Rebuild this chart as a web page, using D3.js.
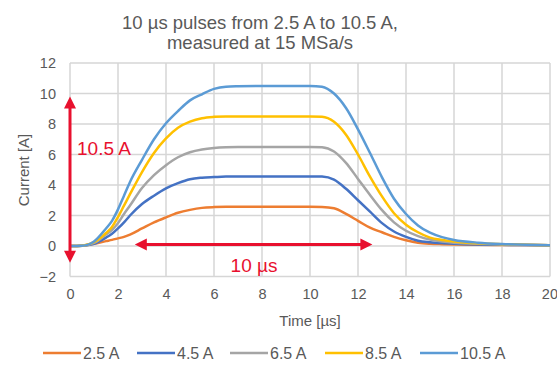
<!DOCTYPE html>
<html><head><meta charset="utf-8">
<script src="https://cdn.jsdelivr.net/npm/d3@7"></script>
<style>
html,body{margin:0;padding:0;background:#fff;}
svg{display:block;font-family:"Liberation Sans",Arial,sans-serif;}
</style></head>
<body><svg id="c" width="557" height="369"></svg>
<script>
const titleLines = ["10 µs pulses from 2.5 A to 10.5 A,", "measured at 15 MSa/s"];
const xTicks = [0,2,4,6,8,10,12,14,16,18,20];
const yTicks = [-2,0,2,4,6,8,10,12];
const xLabel = "Time [µs]";
const yLabel = "Current [A]";
const seriesNames = ["2.5 A","4.5 A","6.5 A","8.5 A","10.5 A"];
const seriesColors = ["#ED7D31","#4472C4","#A5A5A5","#FFC000","#5B9BD5"];
const time = [0,0.5,1,1.5,1.75,2,2.25,2.5,3,3.5,4,4.5,5,5.5,6,6.5,7,8,9,10,10.5,11,11.5,12,12.5,13,13.5,14,14.5,15,15.5,16,17,18,19,20];
const s25  = [0,0.02,0.15,0.32,0.4,0.5,0.6,0.75,1.15,1.55,1.88,2.18,2.37,2.5,2.55,2.57,2.57,2.57,2.57,2.57,2.56,2.48,2.1,1.65,1.2,0.9,0.6,0.38,0.22,0.15,0.12,0.1,0.08,0.07,0.06,0.05];
const s45  = [0,0.02,0.15,0.55,0.8,1.15,1.55,2.0,2.75,3.3,3.78,4.12,4.38,4.48,4.52,4.55,4.55,4.55,4.55,4.56,4.55,4.35,3.75,3.0,2.25,1.5,0.95,0.6,0.35,0.25,0.19,0.15,0.1,0.08,0.06,0.05];
const s65  = [0,0.02,0.2,0.75,1.05,1.5,2.1,2.65,3.8,4.65,5.3,5.82,6.15,6.33,6.43,6.48,6.5,6.5,6.5,6.5,6.48,6.2,5.45,4.4,3.35,2.35,1.55,1.0,0.65,0.42,0.3,0.22,0.14,0.1,0.07,0.05];
const s85  = [0,0.02,0.25,0.85,1.25,1.9,2.65,3.4,4.85,6.1,7.05,7.75,8.15,8.38,8.47,8.5,8.5,8.5,8.5,8.5,8.48,8.15,7.3,6.0,4.55,3.25,2.15,1.4,0.9,0.55,0.4,0.3,0.18,0.12,0.08,0.05];
const s105 = [0,0.02,0.3,1.15,1.65,2.4,3.3,4.2,5.65,7.0,8.05,8.85,9.55,9.95,10.3,10.45,10.48,10.5,10.5,10.5,10.45,10.0,9.05,7.65,6.1,4.5,3.1,2.1,1.35,0.87,0.58,0.4,0.22,0.13,0.08,0.05];
const seriesValues = [s25,s45,s65,s85,s105];
const annoAmp = {x:0, y0:9.8, y1:-1.1, label:"10.5 A"};
const annoDur = {x0:2.7, x1:12.6, y:0.1, label:"10 µs"};
const red = "#E8102E";

const svg = d3.select("#c");
const x = d3.scaleLinear().domain([0,20]).range([70,550]);
const y = d3.scaleLinear().domain([-2,12]).range([276.5,63]);
const txt = "#595959";

// gridlines
const g = svg.append("g");
g.selectAll("line.h").data(yTicks).join("line")
  .attr("x1",x(0)).attr("x2",x(20)).attr("y1",d=>y(d)).attr("y2",d=>y(d))
  .attr("stroke","#d6d6d6").attr("stroke-width",1.5);
g.selectAll("line.v").data(xTicks).join("line")
  .attr("y1",y(-2)).attr("y2",y(12)).attr("x1",d=>x(d)).attr("x2",d=>x(d))
  .attr("stroke","#d6d6d6").attr("stroke-width",1.5);

// tick labels via axes
const ax = svg.append("g").attr("transform",`translate(0,${y(-2)})`)
  .call(d3.axisBottom(x).tickValues(xTicks).tickSize(0).tickPadding(12));
const ay = svg.append("g").attr("transform",`translate(${x(0)},0)`)
  .call(d3.axisLeft(y).tickValues(yTicks).tickSize(0).tickPadding(14));
[ax,ay].forEach(a=>{
  a.select(".domain").remove();
  a.selectAll("text").attr("fill",txt).style("font-size","14.5px").style("font-family","Liberation Sans, Arial, sans-serif");
});
ax.selectAll(".tick").filter(d=>d===20).select("text").attr("text-anchor","end").attr("x",7.5);

// lines
const line = d3.line().x((d,i)=>x(time[i])).y(d=>y(d)).curve(d3.curveMonotoneX);
svg.append("g").selectAll("path").data(seriesValues).join("path")
  .attr("d",line).attr("fill","none")
  .attr("stroke",(d,i)=>seriesColors[i]).attr("stroke-width",2.5)
  .attr("stroke-linejoin","round");

// title
svg.append("text").attr("x",260).attr("text-anchor","middle").attr("fill",txt)
  .style("font-size","18.5px")
  .selectAll("tspan").data(titleLines).join("tspan")
  .attr("x",260).attr("y",(d,i)=>29+i*20).text(d=>d);

// axis titles
svg.append("text").attr("x",310).attr("y",326).attr("text-anchor","middle")
  .attr("fill",txt).style("font-size","15px").text(xLabel);
svg.append("text").attr("transform","translate(29,170) rotate(-90)")
  .attr("text-anchor","middle").attr("fill",txt).style("font-size","15px").text(yLabel);

// annotations
function arrowHead(px,py,dir){
  const L=12, W=6;
  const a = dir*Math.PI/180;
  const bx = px - L*Math.cos(a), by = py - L*Math.sin(a);
  const nx = -Math.sin(a)*W, ny = Math.cos(a)*W;
  return `M${px},${py}L${bx+nx},${by+ny}L${bx-nx},${by-ny}Z`;
}
const an = svg.append("g");
const ax0 = x(annoAmp.x), ayT = y(annoAmp.y0), ayB = y(annoAmp.y1);
an.append("line").attr("x1",ax0).attr("x2",ax0).attr("y1",ayT+8).attr("y2",ayB-8)
  .attr("stroke",red).attr("stroke-width",3);
an.append("path").attr("d",arrowHead(ax0,ayT,-90)).attr("fill",red);
an.append("path").attr("d",arrowHead(ax0,ayB,90)).attr("fill",red);
an.append("text").attr("x",77).attr("y",155).attr("fill",red).style("font-size","19px").text(annoAmp.label);

const hy = y(annoDur.y), hx0 = x(annoDur.x0), hx1 = x(annoDur.x1);
an.append("line").attr("x1",hx0+8).attr("x2",hx1-8).attr("y1",hy).attr("y2",hy)
  .attr("stroke",red).attr("stroke-width",3);
an.append("path").attr("d",arrowHead(hx0,hy,180)).attr("fill",red);
an.append("path").attr("d",arrowHead(hx1,hy,0)).attr("fill",red);
an.append("text").attr("x",254).attr("y",272).attr("text-anchor","middle").attr("fill",red).style("font-size","19px").text(annoDur.label);

// legend
const legX = [43,137,230,325,420];
const lg = svg.append("g").selectAll("g").data(seriesNames).join("g")
  .attr("transform",(d,i)=>`translate(${legX[i]},353)`);
lg.append("line").attr("x1",0).attr("x2",38).attr("y1",0).attr("y2",0)
  .attr("stroke",(d,i)=>seriesColors[i]).attr("stroke-width",2.5);
lg.append("text").attr("x",40).attr("y",5.5).attr("fill",txt).style("font-size","16px").text(d=>d);
</script></body></html>
